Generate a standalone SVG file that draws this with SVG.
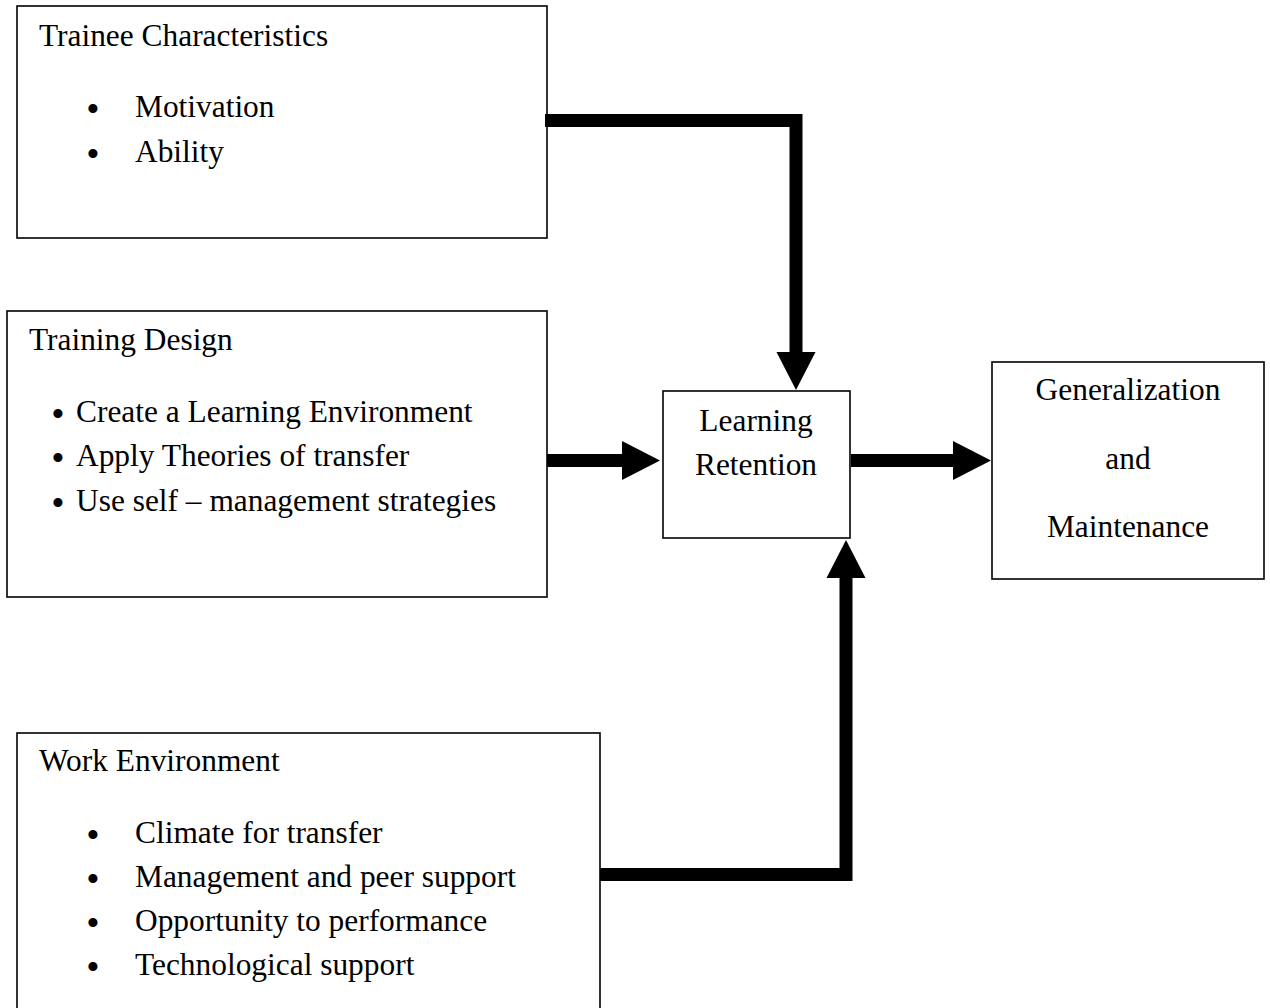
<svg xmlns="http://www.w3.org/2000/svg" width="1270" height="1008" viewBox="0 0 1270 1008">
<style>
.box{fill:#fff;stroke:#000;stroke-width:1.6}
text{font-family:"Liberation Serif","Times New Roman",serif;font-size:31.4px;fill:#000}
.c{text-anchor:middle}
.b{font-size:38px}
.conn{fill:none;stroke:#000;stroke-width:13;stroke-linejoin:miter}
</style>
<defs>
<marker id="ah" markerUnits="userSpaceOnUse" markerWidth="40" markerHeight="40" refX="0" refY="20" orient="auto" overflow="visible">
<path d="M0,0.5 L38,20 L0,39.5 z" fill="#000"/>
</marker>
</defs>
<rect width="1270" height="1008" fill="#fff"/>
<g id="trainee">
<rect class="box" x="17" y="6" width="530" height="232"/>
<text x="39" y="46">Trainee Characteristics</text>
<text y="117"><tspan class="b" x="86.3" dy="4.5">•</tspan><tspan x="135" dy="-4.5">Motivation</tspan></text>
<text y="162"><tspan class="b" x="86.3" dy="4.5">•</tspan><tspan x="135" dy="-4.5">Ability</tspan></text>
</g>
<g id="design">
<rect class="box" x="7" y="311" width="540" height="286"/>
<text x="29" y="350">Training Design</text>
<text y="422"><tspan class="b" x="51.3" dy="4.5">•</tspan><tspan x="76" dy="-4.5">Create a Learning Environment</tspan></text>
<text y="466"><tspan class="b" x="51.3" dy="4.5">•</tspan><tspan x="76" dy="-4.5">Apply Theories of transfer</tspan></text>
<text y="511"><tspan class="b" x="51.3" dy="4.5">•</tspan><tspan x="76" dy="-4.5">Use self – management strategies</tspan></text>
</g>
<g id="work">
<rect class="box" x="17" y="733" width="583" height="290"/>
<text x="39" y="771">Work Environment</text>
<text y="843"><tspan class="b" x="86.3" dy="4.5">•</tspan><tspan x="135" dy="-4.5">Climate for transfer</tspan></text>
<text y="887"><tspan class="b" x="86.3" dy="4.5">•</tspan><tspan x="135" dy="-4.5">Management and peer support</tspan></text>
<text y="931"><tspan class="b" x="86.3" dy="4.5">•</tspan><tspan x="135" dy="-4.5">Opportunity to performance</tspan></text>
<text y="975"><tspan class="b" x="86.3" dy="4.5">•</tspan><tspan x="135" dy="-4.5">Technological support</tspan></text>
</g>
<g id="retention">
<rect class="box" x="663" y="391" width="187" height="147"/>
<text class="c" x="756" y="431">Learning</text>
<text class="c" x="756" y="475">Retention</text>
</g>
<g id="general">
<rect class="box" x="992" y="362" width="272" height="217"/>
<text class="c" x="1128" y="400">Generalization</text>
<text class="c" x="1128" y="469">and</text>
<text class="c" x="1128" y="537">Maintenance</text>
</g>
<g id="connectors">
<path class="conn" d="M545,120.5 H796 V352" marker-end="url(#ah)"/>
<path class="conn" d="M547,460.5 H622" marker-end="url(#ah)"/>
<path class="conn" d="M851,460.5 H953" marker-end="url(#ah)"/>
<path class="conn" d="M600,874.5 H846 V578" marker-end="url(#ah)"/>
</g>
</svg>
